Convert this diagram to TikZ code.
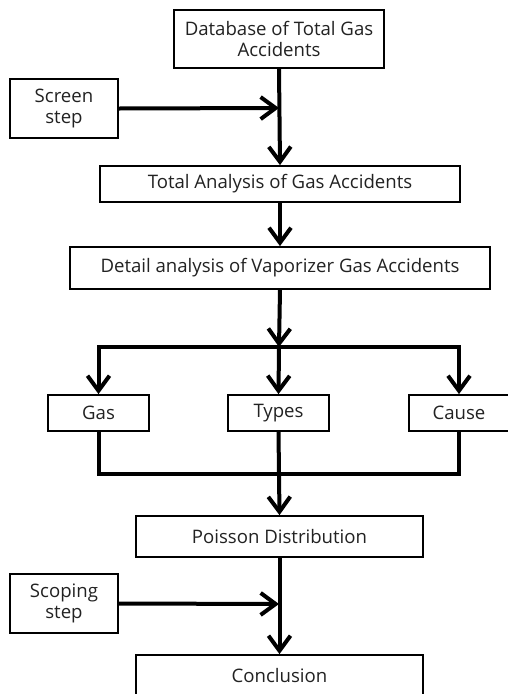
\documentclass[tikz,border=0pt]{standalone}
\usepackage{fontspec}
\setmainfont{Open Sans}
\usetikzlibrary{arrows.meta}
\definecolor{txt}{HTML}{222222}
\tikzset{
  box/.style={draw=black, line width=1.8pt, fill=white, inner sep=0pt, align=center,
    text=txt, font=\fontsize{18.6}{21.5}\selectfont},
  flow/.style={line width=4pt, -{Straight Barb[length=15pt,width=22pt]}},
  bar/.style={line width=4pt},
}
\begin{document}
\begin{tikzpicture}[x=1pt,y=-1pt]
\useasboundingbox (0,0) rectangle (507,694);
\node[box, minimum width=210pt, minimum height=58pt] (db) at (279,39) {Database of Total Gas\\Accidents};
\node[box, minimum width=108pt, minimum height=59pt] (screen) at (64,108.5) {Screen\\step};
\node[box, minimum width=360pt, minimum height=36pt] (total) at (280,184) {Total Analysis of Gas Accidents};
\node[box, minimum width=420pt, minimum height=42pt] (detail) at (280,268) {Detail analysis of Vaporizer Gas Accidents};
\node[box, minimum width=101pt, minimum height=36pt] (gas) at (98.5,413) {Gas};
\node[box, minimum width=101pt, minimum height=36pt] (types) at (278.5,413) {Types};
\node[box, minimum width=100pt, minimum height=36pt] (cause) at (459,413) {Cause};
\node[box, minimum width=287pt, minimum height=41pt] (poisson) at (279.5,536.5) {Poisson Distribution};
\node[box, minimum width=108pt, minimum height=59pt] (scoping) at (64,603.5) {Scoping\\step};
\node[box, minimum width=287pt, minimum height=42pt] (concl) at (279.5,676) {Conclusion};

\coordinate (j1) at (279,108);
\coordinate (br) at (279,347);
\coordinate (brl) at (98.5,347);
\coordinate (brr) at (459,347);
\coordinate (cl) at (98.5,474);
\coordinate (cr) at (459,474);
\coordinate (j2) at (279,604);

\draw[flow] (db.south) -- (total.north);
\draw[flow] (screen.east) -- (j1);
\draw[flow] (total.south) -- (detail.north);
\draw[flow] (detail.south) -- (br);
\draw[bar, line cap=rect] (brl) -- (brr);
\draw[flow] (brl) -- (gas.north);
\draw[flow] (br) -- (types.north);
\draw[flow] (brr) -- (cause.north);
\draw[bar, line cap=rect] (gas.south) -- (cl) -- (cr) -- (cause.south);
\draw[flow] (types.south) -- (poisson.north);
\draw[flow] (poisson.south) -- (concl.north);
\draw[flow] (scoping.east) -- (j2);
\end{tikzpicture}
\end{document}
